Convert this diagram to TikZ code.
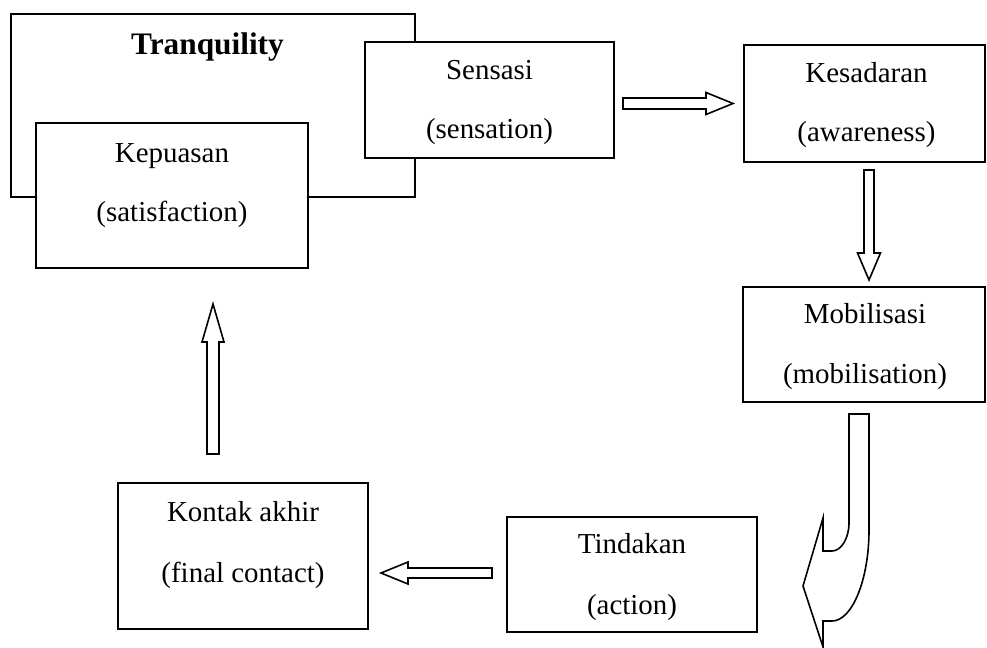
\documentclass[tikz,border=0pt]{standalone}
\usepackage{fontspec}
\setmainfont{Liberation Serif}
\usetikzlibrary{calc}

\tikzset{
  box/.style={draw, line width=1.5pt, fill=white, inner sep=0pt, outer sep=0pt},
  bw/.style={minimum width=#1*0.75pt},
  bh/.style={minimum height=#1*0.75pt},
  lbl/.style={anchor=base, inner sep=0pt, font=\fontsize{21.7}{26}\selectfont},
  title/.style={anchor=base, inner sep=0pt, font=\fontsize{23.5}{28}\selectfont\bfseries},
  arrowline/.style={draw, line width=1.2pt, fill=white, line join=miter},
}

% Hollow block arrow: #1 tail centre, #2 tip, #3 shaft half-width,
% #4 head half-width, #5 head length
\newcommand\fatarrow[5]{%
  \coordinate (fa-h) at ($(#2)!#5!(#1)$);
  \draw[arrowline] ($(#1)!#3!90:(#2)$) -- ($(fa-h)!#3!90:(#2)$)
    -- ($(fa-h)!#4!90:(#2)$) -- (#2) -- ($(fa-h)!#4!-90:(#2)$)
    -- ($(fa-h)!#3!-90:(#2)$) -- ($(#1)!#3!-90:(#2)$) -- cycle;
}

\begin{document}
\begin{tikzpicture}[x=0.75pt, y=-0.75pt]
\useasboundingbox (0,0) rectangle (987,648);

% outer frame of the tranquility state
\node[box, bw=404, bh=183] (tranq) at (213,105.5) {};

% stage boxes
\node[box, bw=272, bh=145] (kep)  at (172,195.5) {};
\node[box, bw=249, bh=116] (sens) at (489.5,100) {};
\node[box, bw=241, bh=117] (kes)  at (864.5,103.5) {};
\node[box, bw=242, bh=115] (mob)  at (864,344.5) {};
\node[box, bw=250, bh=115] (tind) at (632,574.5) {};
\node[box, bw=250, bh=146] (kont) at (243,556) {};

% labels
\node[title] (tranq-t) at (207.5,55) {Tranquility};

\path (kep.north)  ++(0,40) node[lbl] (kep-a) {Kepuasan}
                   ++(0,59) node[lbl] (kep-b) {(satisfaction)};
\path (sens.north) ++(0,38) node[lbl] (sens-a) {Sensasi}
                   ++(0,59) node[lbl] (sens-b) {(sensation)};
\path (kes.north)  ++(2,38) node[lbl] (kes-a) {Kesadaran}
                   ++(0,59) node[lbl] (kes-b) {(awareness)};
\path (mob.north)  ++(1,36) node[lbl] (mob-a) {Mobilisasi}
                   ++(0,60) node[lbl] (mob-b) {(mobilisation)};
\path (tind.north) ++(0,36) node[lbl] (tind-a) {Tindakan}
                   ++(0,61) node[lbl] (tind-b) {(action)};
\path (kont.north) ++(0,38) node[lbl] (kont-a) {Kontak akhir}
                   ++(0,61) node[lbl] (kont-b) {(final contact)};

% connector end points
\coordinate (a1s) at ($(sens.east)+(9,3.5)$);
\coordinate (a1t) at ($(kes.west)+(-11,0)$);
\coordinate (a2s) at ($(kes.south)+(4.5,8)$);
\coordinate (a2t) at ($(mob.north)+(5,-7)$);
\coordinate (a3s) at ($(tind.west)+(-15,-1.5)$);
\coordinate (a3t) at ($(kont.east)+(13,17)$);
\coordinate (a4s) at ($(kont.north)+(-30,-29)$);
\coordinate (a4t) at ($(kep.south)+(41,36)$);

% straight block arrows
\fatarrow{a1s}{a1t}{4.1pt}{8.25pt}{20.25pt}
\fatarrow{a2s}{a2t}{3.75pt}{8.6pt}{20.25pt}
\fatarrow{a3s}{a3t}{3.75pt}{8.25pt}{20.25pt}
\fatarrow{a4s}{a4t}{4.5pt}{8.25pt}{28.5pt}

% curved block arrow from mobilisation down to action
\draw[arrowline] (849,414) -- (869,414) -- (869,530)
  .. controls (869,580) and (852,621) .. (832,621)
  -- (823,621) -- (823,647) -- (803,586) -- (823,518) -- (823,551)
  -- (832,551) .. controls (841,551) and (849,538.5) .. (849,523) -- cycle;
\end{tikzpicture}
\end{document}
